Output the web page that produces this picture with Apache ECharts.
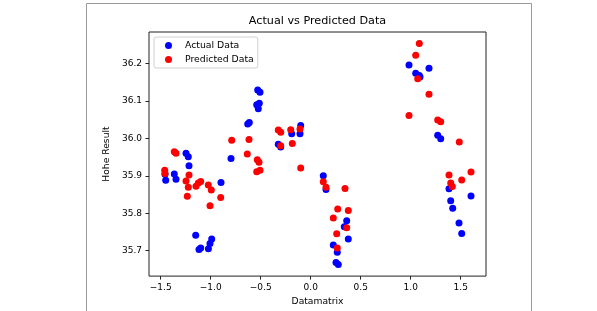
<!DOCTYPE html>
<html>
<head>
<meta charset="utf-8">
<script src="https://cdn.jsdelivr.net/npm/echarts@6/dist/echarts.min.js"></script>
<style>
  html, body { margin: 0; padding: 0; background: #fff; }
  #chart { width: 597px; height: 311px; }
</style>
</head>
<body>
<div id="chart"></div>
<script>
// values
const actualPoints = [
  [-1.457, 35.904], [-1.45, 35.888], [-1.364, 35.905], [-1.347, 35.891],
  [-1.247, 35.96], [-1.224, 35.951], [-1.217, 35.927], [-1.15, 35.741],
  [-1.117, 35.703], [-1.10, 35.707], [-1.023, 35.705], [-1.007, 35.719],
  [-0.99, 35.731], [-0.897, 35.882], [-0.797, 35.946], [-0.63, 36.038],
  [-0.614, 36.042], [-0.54, 36.09], [-0.53, 36.129], [-0.524, 36.079],
  [-0.514, 36.094], [-0.507, 36.123], [-0.324, 35.984], [-0.30, 35.977],
  [-0.19, 36.012], [-0.107, 36.012], [-0.10, 36.034], [0.126, 35.90],
  [0.153, 35.863], [0.226, 35.715], [0.253, 35.668], [0.266, 35.696],
  [0.276, 35.663], [0.336, 35.764], [0.36, 35.78], [0.376, 35.731],
  [0.983, 36.196], [1.05, 36.174], [1.086, 36.168], [1.093, 36.164],
  [1.183, 36.187], [1.27, 36.008], [1.30, 35.999], [1.383, 35.865],
  [1.40, 35.833], [1.42, 35.813], [1.483, 35.774], [1.51, 35.746],
  [1.603, 35.846],
];
const predictedPoints = [
  [-1.46, 35.915], [-1.457, 35.906], [-1.364, 35.964], [-1.347, 35.96],
  [-1.247, 35.886], [-1.234, 35.845], [-1.224, 35.869], [-1.217, 35.902],
  [-1.147, 35.872], [-1.124, 35.881], [-1.10, 35.885], [-1.024, 35.875],
  [-1.007, 35.82], [-0.994, 35.862], [-0.90, 35.842], [-0.79, 35.995],
  [-0.634, 35.958], [-0.617, 35.997], [-0.54, 35.911], [-0.534, 35.943],
  [-0.517, 35.936], [-0.507, 35.915], [-0.324, 36.022], [-0.30, 36.016],
  [-0.30, 35.98], [-0.20, 36.023], [-0.184, 35.986], [-0.107, 36.025],
  [-0.10, 35.921], [0.126, 35.884], [0.153, 35.869], [0.226, 35.787],
  [0.26, 35.745], [0.266, 35.707], [0.27, 35.811], [0.343, 35.866],
  [0.36, 35.761], [0.376, 35.807], [0.983, 36.061], [1.05, 36.222],
  [1.07, 36.159], [1.086, 36.253], [1.183, 36.118], [1.27, 36.049],
  [1.30, 36.044], [1.383, 35.902], [1.40, 35.881], [1.416, 35.871],
  [1.486, 35.99], [1.51, 35.889], [1.603, 35.91],
];
const xTicks = [-1.5, -1.0, -0.5, 0.0, 0.5, 1.0, 1.5];
const yTicks = [35.7, 35.8, 35.9, 36.0, 36.1, 36.2];

const font = 'DejaVu Sans';
const fmt = (v) => v.toFixed(1).replace('-', '\u2212');

const option = {
  animation: false,
  title: {
    text: 'Actual vs Predicted Data',
    left: 317.5,
    textAlign: 'center',
    top: 16,
    padding: 0,
    textStyle: { fontFamily: font, fontSize: 11.2, fontWeight: 'normal', color: '#000' },
  },
  legend: {
    orient: 'vertical',
    left: 154,
    top: 37,
    padding: [3, 4, 3, 11],
    itemGap: 3,
    itemWidth: 7,
    itemHeight: 7,
    icon: 'circle',
    borderColor: '#d0d0d0',
    borderWidth: 1,
    borderRadius: 2,
    backgroundColor: '#fff',
    selectedMode: false,
    textStyle: { fontFamily: font, fontSize: 9.3, color: '#000', lineHeight: 11, padding: [0, 0, 0, 8] },
    data: ['Actual Data', 'Predicted Data'],
  },
  grid: {
    left: 149,
    top: 32,
    width: 337,
    height: 251,
    show: true,
    borderColor: '#222',
    borderWidth: 1,
    containLabel: false,
  },
  xAxis: {
    type: 'value',
    min: -1.617,
    max: 1.753,
    name: 'Datamatrix',
    nameLocation: 'middle',
    nameGap: 18,
    nameTextStyle: { fontFamily: font, fontSize: 9.2, color: '#000' },
    splitLine: { show: false },
    axisLine: { show: false, onZero: false },
    axisTick: { show: true, length: 3.5, customValues: xTicks, lineStyle: { color: '#222' } },
    axisLabel: {
      customValues: xTicks,
      margin: 7,
      fontFamily: font,
      fontSize: 9,
      color: '#000',
      formatter: fmt,
    },
  },
  yAxis: {
    type: 'value',
    min: 35.632,
    max: 36.284,
    name: 'Hohe Result',
    nameLocation: 'middle',
    nameGap: 31,
    nameTextStyle: { fontFamily: font, fontSize: 9.2, color: '#000' },
    splitLine: { show: false },
    axisLine: { show: false, onZero: false },
    axisTick: { show: true, length: 3.5, customValues: yTicks, lineStyle: { color: '#222' } },
    axisLabel: {
      customValues: yTicks,
      margin: 7,
      fontFamily: font,
      fontSize: 9,
      color: '#000',
      formatter: fmt,
    },
  },
  graphic: [{
    type: 'rect',
    shape: { x: 86.5, y: 3.5, width: 445, height: 330 },
    style: { fill: 'none', stroke: '#9a9a9a', lineWidth: 1 },
    silent: true,
  }],
  series: [
    {
      name: 'Actual Data',
      type: 'scatter',
      symbolSize: 7,
      itemStyle: { color: '#0000ff', opacity: 1 },
      data: actualPoints,
    },
    {
      name: 'Predicted Data',
      type: 'scatter',
      symbolSize: 7,
      itemStyle: { color: '#ff0000', opacity: 1 },
      data: predictedPoints,
    },
  ],
};

const myChart = echarts.init(document.getElementById('chart'), null, { renderer: 'canvas' });
myChart.setOption(option);
</script>
</body>
</html>
